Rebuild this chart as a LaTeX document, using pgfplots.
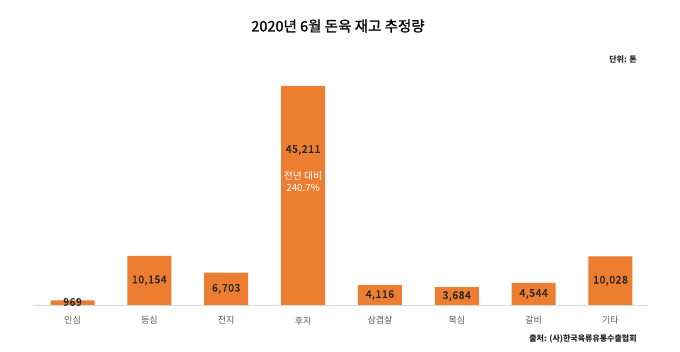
\documentclass[border=0pt]{standalone}
\usepackage{pgfplots}
\pgfplotsset{compat=1.18}
\usepackage{pgfplotstable}
\usepackage{fontspec}
\setmainfont{Noto Sans CJK KR}
\newfontfamily\valfont[FakeBold=1.2,LetterSpace=5]{Noto Sans CJK KR}
\newfontfamily\titlefont[FakeBold=1.2]{Noto Sans CJK KR}
\definecolor{barorange}{HTML}{ED7D31}
\definecolor{ticktext}{HTML}{595959}
\definecolor{axisgray}{HTML}{D9D9D9}
\definecolor{valtext}{HTML}{262626}
\pgfplotstableread{
x v ly lab
0 969 620 969
1 10154 5077 10,154
2 6703 3352 6,703
3 45211 32000 45,211
4 4116 2058 4,116
5 3684 1842 3,684
6 4544 2272 4,544
7 10028 5014 10,028
}\data
\begin{document}
\begin{tikzpicture}[x=1pt,y=1pt]
\useasboundingbox[fill=white] (0,0) rectangle (680,352);
\begin{axis}[
  at={(33pt,47pt)}, anchor=south west,
  scale only axis, width=615pt, height=240pt,
  xmin=-0.514, xmax=7.488, ymin=0, ymax=49546,
  axis x line*=bottom, axis y line=none,
  x axis line style={axisgray, line width=0.8pt, -},
  xtick={0,...,7},
  xticklabels={인심,등심,전지,후지,삼겹살,목심,갈비,기타},
  major tick length=0pt,
  xticklabel style={font=\fontsize{9}{10}\selectfont, text=ticktext, yshift=-8pt},
  clip=false,
]
\addplot[ybar, bar width=44pt, fill=barorange, draw=none] table[x=x,y=v]{\data};
\addplot[draw=none, mark=none, nodes near coords, point meta=explicit symbolic,
  nodes near coords style={anchor=center, font=\valfont\fontsize{10.5}{13}\selectfont, text=valtext}]
  table[x=x,y=ly,meta=lab]{\data};
\node[align=center, text=white, font=\fontsize{9.8}{11.5}\selectfont] at (axis cs:3,25500) {전년 대비\\240.7\%};
\end{axis}
\node[font=\titlefont\fontsize{14.5}{17}\selectfont] at (338,326) {2020년 6월 돈육 재고 추정량};
\node[font=\fontsize{8}{10}\selectfont\bfseries, text=valtext] at (623,292) {단위: 톤};
\node[font=\fontsize{8}{10}\selectfont\bfseries, text=valtext] at (583,13) {출처: (사)한국육류유통수출협회};
\end{tikzpicture}
\end{document}
